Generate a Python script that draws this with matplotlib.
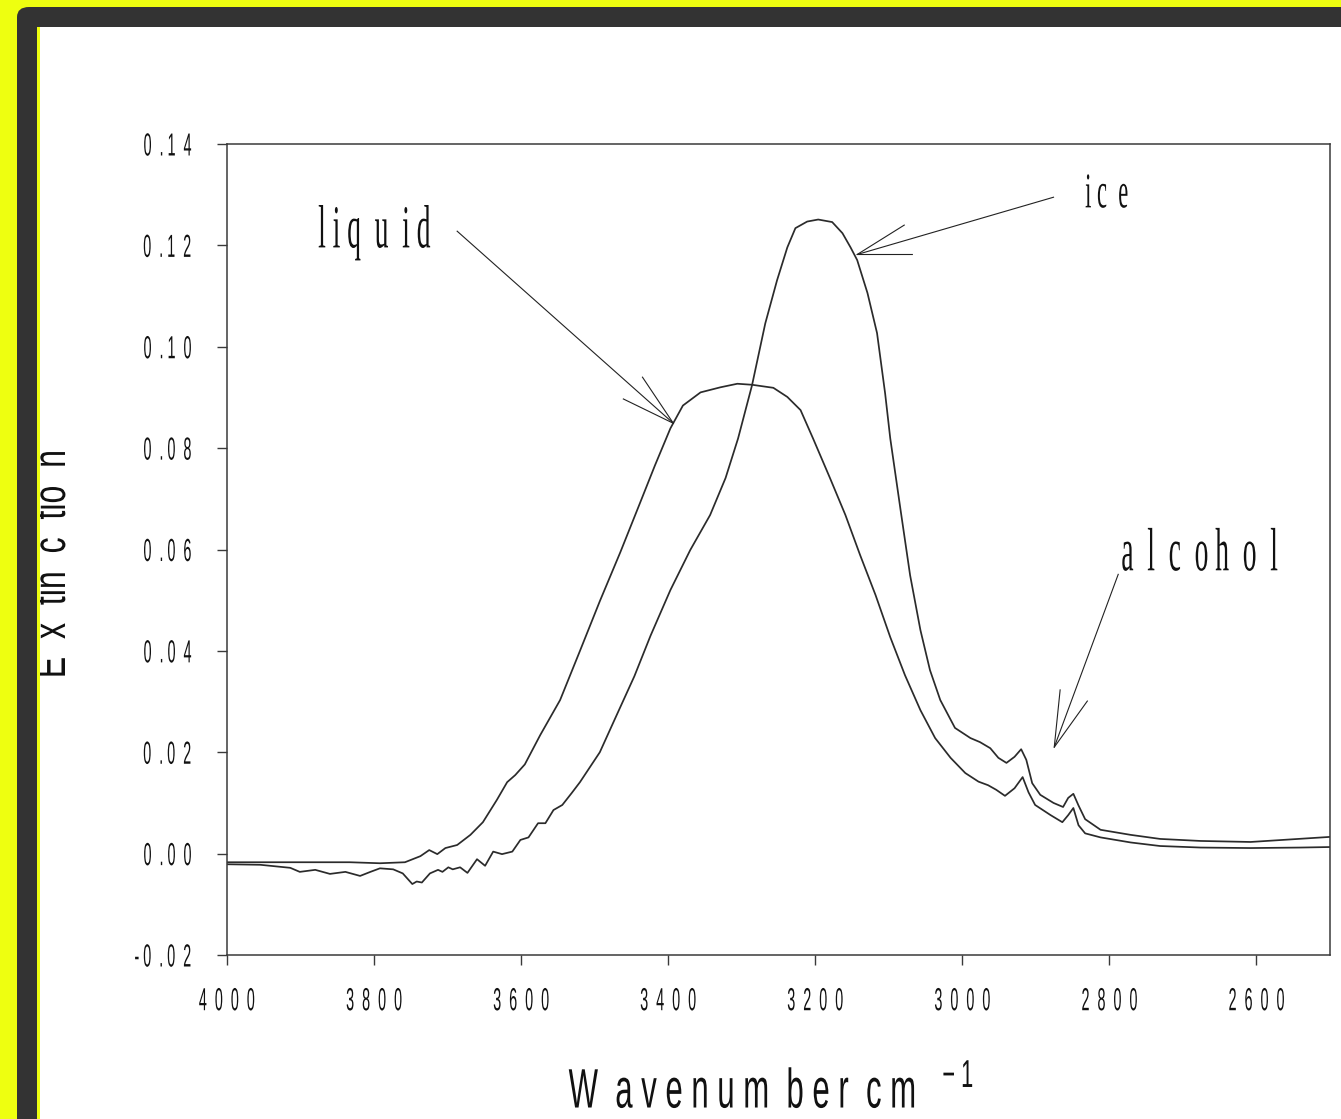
import matplotlib
matplotlib.use("Agg")
import matplotlib.pyplot as plt
from matplotlib.patches import FancyBboxPatch, Rectangle
from matplotlib.patheffects import AbstractPathEffect
from matplotlib.transforms import Affine2D

plt.rcParams["mathtext.fontset"] = "custom"
plt.rcParams["mathtext.rm"] = "Liberation Sans"
plt.rcParams["mathtext.it"] = "Liberation Sans:italic"
plt.rcParams["mathtext.bf"] = "Liberation Sans:bold"

# ---------------- data ----------------
liquid_wn = [4000, 3901, 3833, 3792, 3758, 3737, 3725, 3714, 3703, 3687,
             3669, 3652, 3633, 3619, 3608, 3595, 3574, 3547, 3520, 3493,
             3465, 3438, 3418, 3397, 3380, 3356, 3329, 3306, 3286, 3257,
             3238, 3220, 3203, 3180, 3159, 3139, 3118, 3098, 3078, 3057,
             3037, 3016, 2996, 2978, 2965, 2954, 2942, 2929, 2918, 2910,
             2901, 2880, 2864, 2856, 2849, 2842, 2833, 2812, 2771, 2731,
             2676, 2608, 2540, 2500]
liquid_val = [-0.0017, -0.0017, -0.0017, -0.0019, -0.0017, -0.0005, 0.0007, -0.0001, 0.0011, 0.0017,
              0.0037, 0.0062, 0.0106, 0.0141, 0.0155, 0.0176, 0.0234, 0.0303, 0.0400, 0.0498,
              0.0595, 0.0693, 0.0766, 0.0839, 0.0884, 0.0910, 0.0920, 0.0927, 0.0925, 0.0919,
              0.0901, 0.0875, 0.0819, 0.0741, 0.0668, 0.0589, 0.0510, 0.0427, 0.0352, 0.0283,
              0.0228, 0.0189, 0.0159, 0.0142, 0.0135, 0.0126, 0.0114, 0.0129, 0.0151, 0.0121,
              0.0096, 0.0076, 0.0062, 0.0076, 0.0090, 0.0056, 0.0040, 0.0032, 0.0022, 0.0015,
              0.0012, 0.0011, 0.0012, 0.0013]

ice_wn = [4000, 3955, 3914, 3901, 3880, 3860, 3839, 3819, 3805, 3792,
          3774, 3761, 3748, 3742, 3735, 3724, 3713, 3707, 3699, 3693,
          3683, 3673, 3660, 3649, 3638, 3626, 3612, 3601, 3590, 3577,
          3567, 3556, 3544, 3531, 3520, 3493, 3473, 3446, 3424, 3397,
          3370, 3343, 3322, 3305, 3286, 3268, 3252, 3238, 3227, 3211,
          3196, 3177, 3163, 3152, 3143, 3129, 3116, 3105, 3098, 3084,
          3071, 3057, 3044, 3030, 3010, 2989, 2976, 2962, 2951, 2940,
          2929, 2920, 2913, 2905, 2894, 2876, 2863, 2856, 2849, 2842,
          2833, 2812, 2771, 2731, 2676, 2608, 2554, 2500]
ice_val = [-0.0021, -0.0022, -0.0028, -0.0036, -0.0032, -0.0040, -0.0036, -0.0044, -0.0036, -0.0029,
           -0.0031, -0.0039, -0.0060, -0.0055, -0.0057, -0.0039, -0.0032, -0.0036, -0.0027, -0.0031,
           -0.0027, -0.0038, -0.0011, -0.0024, 0.0004, -0.0001, 0.0004, 0.0027, 0.0032, 0.0060,
           0.0060, 0.0086, 0.0096, 0.0120, 0.0141, 0.0200, 0.0264, 0.0350, 0.0430, 0.0520,
           0.0599, 0.0668, 0.0741, 0.0819, 0.0924, 0.1046, 0.1131, 0.1196, 0.1234, 0.1247,
           0.1251, 0.1246, 0.1224, 0.1196, 0.1171, 0.1106, 0.1027, 0.0908, 0.0819, 0.0678,
           0.0549, 0.0441, 0.0362, 0.0303, 0.0248, 0.0228, 0.0220, 0.0208, 0.0189, 0.0179,
           0.0191, 0.0206, 0.0185, 0.0139, 0.0116, 0.0100, 0.0092, 0.0110, 0.0118, 0.0095,
           0.0068, 0.0047, 0.0037, 0.0029, 0.0025, 0.0023, 0.0028, 0.0033]

xtick_vals = [4000, 3800, 3600, 3400, 3200, 3000, 2800, 2600]
xtick_labels = ["4  0  0  0", "3  8  0  0", "3  6  0  0", "3  4  0  0",
                "3  2  0  0", "3  0  0  0", "2  8  0  0", "2  6  0  0"]
ytick_vals = [-0.02, 0.00, 0.02, 0.04, 0.06, 0.08, 0.10, 0.12, 0.14]
ytick_labels = ["- 0  . 0  2", "0  . 0  0", "0  . 0  2", "0  . 0  4", "0  . 0  6",
                "0  . 0  8", "0  . 1  0", "0  . 1  2", "0  . 1  4"]

xlabel_text = r"W  a v e n u m  b e r  c m   $^{-\ 1}$"
ylabel_text = "E  x  tin  c  tio  n"

# annotations: label, text anchor (wn, val), arrow start, arrow tip, two head ends
annot_labels = ["l i q  u  i d", "i c  e", "a  l  c  o h  o  l"]
annot_ha = ["left", "left", "right"]
annot_text_xy = [(3876, 0.1196), (2833, 0.1275), (2570, 0.0559)]
annot_start = [(3687, 0.1228), (2876, 0.1295), (2788, 0.0551)]
annot_tip = [(3393, 0.0849), (3143, 0.1182), (2875, 0.0210)]
annot_head1 = [(3435, 0.0940), (3079, 0.1240), (2867, 0.0323)]
annot_head2 = [(3461, 0.0897), (3068, 0.1182), (2830, 0.0301)]
annot_sizes = [44, 36, 44]


# ---------------- helpers ----------------
class Squeeze(AbstractPathEffect):
    """Compress glyphs along the reading direction (condensed look)."""
    def __init__(self, sx, anchor=0.5):
        super().__init__()
        self.sx = sx
        self.anchor = anchor

    def draw_path(self, renderer, gc, tpath, affine, rgbFace=None):
        ext = tpath.get_extents()
        if self.anchor is None:
            cx = 0.0
        else:
            cx = ext.x0 + self.anchor * (ext.x1 - ext.x0)
        pre = Affine2D().translate(-cx, 0).scale(self.sx, 1.0).translate(cx, 0)
        renderer.draw_path(gc, tpath, pre + affine, rgbFace)


W, H = 1341, 1119
YELLOW = "#EEFF10"
fig = plt.figure(figsize=(W / 100, H / 100), dpi=100)
fig.patch.set_facecolor(YELLOW)


def fx(px):
    return px / W


def fy(py):
    return 1 - py / H


# frame: dark rounded border, thin yellow strip, white interior
dark = FancyBboxPatch((fx(17), fy(1200)), fx(1500), fy(7) - fy(1200),
                      boxstyle="round,pad=0,rounding_size=0.009",
                      transform=fig.transFigure, facecolor="#333333",
                      edgecolor="none", zorder=-10)
fig.patches.append(dark)
ystrip = Rectangle((fx(37), 0), fx(3), fy(27), transform=fig.transFigure,
                   facecolor=YELLOW, edgecolor="none", zorder=-9)
fig.patches.append(ystrip)
white = Rectangle((fx(40), 0), 1 - fx(40), fy(27), transform=fig.transFigure,
                  facecolor="white", edgecolor="none", zorder=-8)
fig.patches.append(white)

ax = fig.add_axes([fx(227), fy(955), fx(1330) - fx(227), fy(144) - fy(955)])
ax.patch.set_alpha(0)

line_col = "#2b2b2b"
ax.plot(liquid_wn, liquid_val, color=line_col, lw=1.25, solid_joinstyle="round")
ax.plot(ice_wn, ice_val, color=line_col, lw=1.25, solid_joinstyle="round")

ax.set_xlim(4000, 2500)
ax.set_ylim(-0.02, 0.14)

for s in ax.spines.values():
    s.set_color("#3a3a3a")
    s.set_linewidth(1.1)

ax.set_xticks(xtick_vals, xtick_labels)
ax.set_yticks(ytick_vals, ytick_labels)
ax.tick_params(axis="both", direction="out", length=7.2, width=1.0, color="#3a3a3a")
ax.tick_params(axis="x", pad=16)
ax.tick_params(axis="y", pad=18)
for t in ax.get_xticklabels():
    t.set_fontfamily("Liberation Sans")
    t.set_fontsize(23)
    t.set_color("#111111")
    t.set_path_effects([Squeeze(0.45, 0.5)])
for t in ax.get_yticklabels():
    t.set_fontfamily("Liberation Sans")
    t.set_fontsize(23)
    t.set_color("#111111")
    t.set_path_effects([Squeeze(0.45, 1.0)])

# axis labels
fig.text(fx(771), fy(1108), xlabel_text, ha="center", va="baseline",
         fontsize=40, family="Liberation Sans", color="#111111",
         path_effects=[Squeeze(0.56, 0.5)])
yl = fig.text(fx(65), fy(564), ylabel_text, rotation=90, rotation_mode="anchor",
              ha="center", va="baseline", fontsize=33, family="Liberation Sans",
              color="#111111", path_effects=[Squeeze(0.7, 0.5)])
yl.set_clip_path(white)

# annotations with open arrowheads
for lab, ha, txy, st, tip, h1, h2, fs in zip(annot_labels, annot_ha, annot_text_xy,
                                             annot_start, annot_tip, annot_head1,
                                             annot_head2, annot_sizes):
    anchor = None if ha == "left" else 1.0
    ax.text(txy[0], txy[1], lab, ha=ha, va="baseline", fontsize=fs,
            family="Liberation Serif", color="#111111",
            path_effects=[Squeeze(0.45, anchor)])
    ax.plot([st[0], tip[0]], [st[1], tip[1]], color="#222222", lw=0.8, clip_on=False)
    ax.plot([h1[0], tip[0], h2[0]], [h1[1], tip[1], h2[1]], color="#222222",
            lw=0.8, clip_on=False)

fig.savefig("out.png", dpi=100, facecolor=fig.get_facecolor())
